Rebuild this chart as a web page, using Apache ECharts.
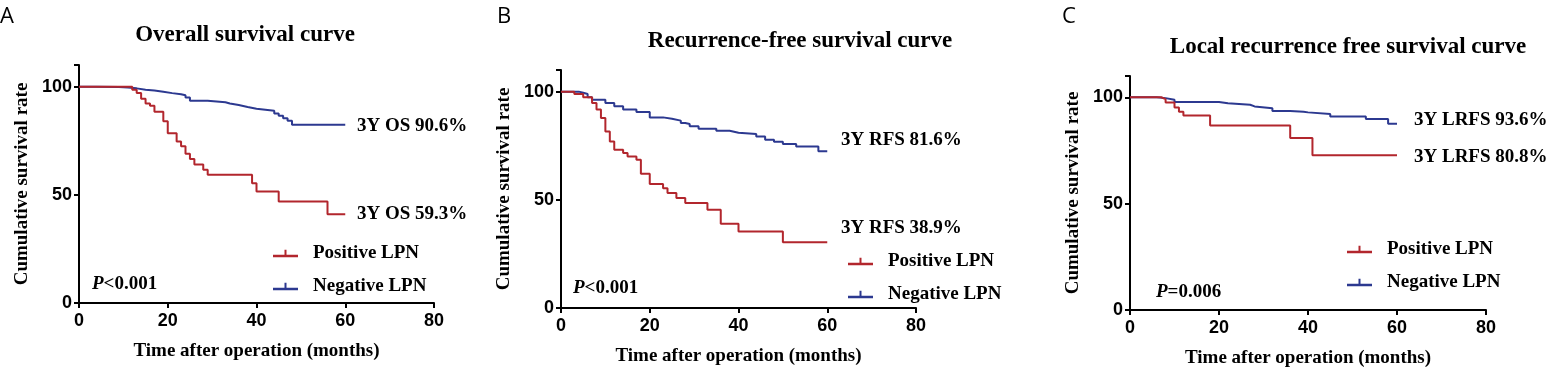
<!DOCTYPE html>
<html>
<head>
<meta charset="utf-8">
<script src="https://cdn.jsdelivr.net/npm/echarts@6/dist/echarts.min.js"></script>
<style>
  html, body { margin: 0; padding: 0; background: #fff; }
  #chart { width: 1547px; height: 373px; }
</style>
</head>
<body>
<div id="chart"></div>
<script>
// Kaplan-Meier steps: [month, survival %]
var osPositive = [[0,100],[12,98.6],[13,97.1],[14,94.4],[15,92.2],[16,91.2],[17,88.4],[19,84],[20,78.5],[22,74.7],[23,72.4],[24,69],[25,66.5],[26,64],[28,61.6],[29,59.3],[39,55.4],[40,51.5],[45,46.9],[56,41],[60,41]];
var osNegative = [[0,100],[4,99.8],[9,99.6],[11,99.2],[13,98.6],[15,98.2],[17,97.6],[19,97],[21,96.5],[23,96],[24,95],[25,93.5],[29,92.8],[33,92.2],[34,91.5],[36,90.6],[38,89.8],[40,88.9],[44,87.6],[45,86.6],[46,85.4],[47,84.2],[48,82.4],[60,82.4]];

var rfsPositive = [[0,100],[3,98.9],[5,97.4],[7,94.8],[8,91.7],[9,87.8],[10,81.6],[11,77],[12,73.1],[14,71.6],[15,70],[17,68.5],[18,62],[20,57.3],[23,55.4],[24,53.1],[26,50.8],[28,48.5],[33,45.4],[36,38.9],[40,35.3],[50,30.4],[60,30.4]];
var rfsNegative = [[0,100],[4,99.5],[5,98.9],[6,97.4],[7,96.3],[10,94.8],[12,93.2],[14,91.7],[17,90.6],[20,88.1],[23,87.5],[25,86.6],[27,85.5],[28,85],[29,84],[31,82.9],[35,81.9],[38,81],[40,80.4],[44,79.3],[46,77.8],[48,76.8],[50,75.8],[53,74.7],[58,72.4],[60,72.4]];

var lrfsPositive = [[0,100],[7,99.1],[8,97.5],[10,95.2],[11,93.2],[12,91.4],[18,86.7],[36,80.8],[41,72.8],[60,72.8]];
var lrfsNegative = [[0,100],[6,99.6],[8,98.8],[10,97.8],[20,97.2],[22,96.5],[27,95.7],[28,94.8],[32,93.5],[36,93.2],[39,92.9],[40,92.1],[45,91],[53,89.8],[58,87.5],[60,87.5]];

var xTicks = [0, 20, 40, 60, 80];
var yTicks = [0, 50, 100];

var panelTitles = ['Overall survival curve', 'Recurrence-free survival curve', 'Local recurrence free survival curve'];
var panelLetters = ['A', 'B', 'C'];
var rateLabels = [
  ['3Y OS 90.6%', '3Y OS 59.3%'],
  ['3Y RFS 81.6%', '3Y RFS 38.9%'],
  ['3Y LRFS 93.6%', '3Y LRFS 80.8%']
];
var pValues = [['P', '<0.001'], ['P', '<0.001'], ['P', '=0.006']];
var groupNames = ['Positive LPN', 'Negative LPN'];

var RED = '#b2262d';
var BLUE = '#2c3990';
var SERIF = '"Liberation Serif", "Times New Roman", serif';
var SANS = '"Liberation Sans", Arial, sans-serif';

// layout of the three panels (pixels)
var grids = [
  { left: 79, top: 65, width: 355, height: 238 },
  { left: 561, top: 70, width: 355, height: 238 },
  { left: 1130, top: 76, width: 356, height: 238 }
];
var titlePos = [[245, 35], [800, 41], [1348, 47]];
var letterPos = [[0, 6], [497, 6], [1062, 6]];
var ratePos = [[[357, 126], [357, 214]], [[841, 140], [841, 228]], [[1414, 120], [1414, 157]]];
var pPos = [[92, 284], [573, 288], [1156, 292]];
var legendPos = [[273, 244], [848, 252], [1347, 240]];

var seriesData = [[osPositive, osNegative], [rfsPositive, rfsNegative], [lrfsPositive, lrfsNegative]];

// short line with a small upward tick (censor mark), 25 x 8 px
var legendIcon = 'path://M0,5L25,5L25,7.5L0,7.5Z M11.5,0L13.5,0L13.5,5L11.5,5Z';

var axisLineStyle = { color: '#000', width: 2 };

var xAxes = [], yAxes = [], series = [], legends = [], graphics = [];

grids.forEach(function (g, i) {
  xAxes.push({
    type: 'value', gridIndex: i, min: 0, max: 80, interval: 20,
    axisLine: { onZero: false, lineStyle: axisLineStyle },
    axisTick: { length: 5, lineStyle: axisLineStyle },
    splitLine: { show: false },
    axisLabel: { margin: 9, color: '#000', fontFamily: SANS, fontWeight: 'bold', fontSize: 18 },
    name: 'Time after operation (months)', nameLocation: 'middle', nameGap: 39,
    nameTextStyle: { color: '#000', fontFamily: SERIF, fontWeight: 'bold', fontSize: 19 }
  });
  yAxes.push({
    type: 'value', gridIndex: i, min: 0, max: 110, interval: 50,
    axisLine: { show: true, lineStyle: axisLineStyle },
    axisTick: { show: true, length: 5, lineStyle: axisLineStyle },
    splitLine: { show: false },
    axisLabel: {
      margin: 7, color: '#000', fontFamily: SANS, fontWeight: 'bold', fontSize: 18,
      formatter: function (v) { return yTicks.indexOf(v) >= 0 ? v : ''; }
    },
    name: 'Cumulative survival rate', nameLocation: 'middle', nameGap: 47,
    nameTextStyle: { color: '#000', fontFamily: SERIF, fontWeight: 'bold', fontSize: 19 }
  });
  [RED, BLUE].forEach(function (c, k) {
    series.push({
      name: groupNames[k], type: 'line', step: 'end',
      xAxisIndex: i, yAxisIndex: i,
      data: seriesData[i][k],
      showSymbol: false, symbol: 'none',
      lineStyle: { color: c, width: 2 }, itemStyle: { color: c },
      z: k === 0 ? 3 : 2,
      animation: false
    });
  });
  legends.push({
    orient: 'vertical', left: legendPos[i][0], top: legendPos[i][1],
    data: groupNames, icon: legendIcon, itemWidth: 25, itemHeight: 8, itemGap: 14,
    selectedMode: false, padding: 0,
    textStyle: { color: '#000', fontFamily: SERIF, fontWeight: 'bold', fontSize: 19, padding: [0, 0, 0, 10] }
  });

  graphics.push({
    type: 'text', left: letterPos[i][0], top: letterPos[i][1],
    style: { text: panelLetters[i], font: '22px "Open Sans", "DejaVu Sans", sans-serif', fill: '#000' }
  });
  graphics.push({
    type: 'text', x: titlePos[i][0], y: titlePos[i][1],
    style: { text: panelTitles[i], font: 'bold 23px ' + SERIF, fill: '#000', align: 'center', verticalAlign: 'middle' }
  });
  rateLabels[i].forEach(function (t, k) {
    graphics.push({
      type: 'text', x: ratePos[i][k][0], y: ratePos[i][k][1],
      style: { text: t, font: 'bold 19px ' + SERIF, fill: '#000', align: 'left', verticalAlign: 'middle' }
    });
  });
  graphics.push({
    type: 'text', x: pPos[i][0], y: pPos[i][1],
    style: {
      text: '{i|' + pValues[i][0] + '}{n|' + pValues[i][1] + '}',
      rich: {
        i: { fontFamily: SERIF, fontWeight: 'bold', fontStyle: 'italic', fontSize: 19, fill: '#000' },
        n: { fontFamily: SERIF, fontWeight: 'bold', fontSize: 19, fill: '#000' }
      },
      verticalAlign: 'middle'
    }
  });
});

var chart = echarts.init(document.getElementById('chart'));
chart.setOption({
  animation: false,
  backgroundColor: '#fff',
  grid: grids,
  xAxis: xAxes,
  yAxis: yAxes,
  legend: legends,
  series: series,
  graphic: graphics
});
</script>
</body>
</html>
